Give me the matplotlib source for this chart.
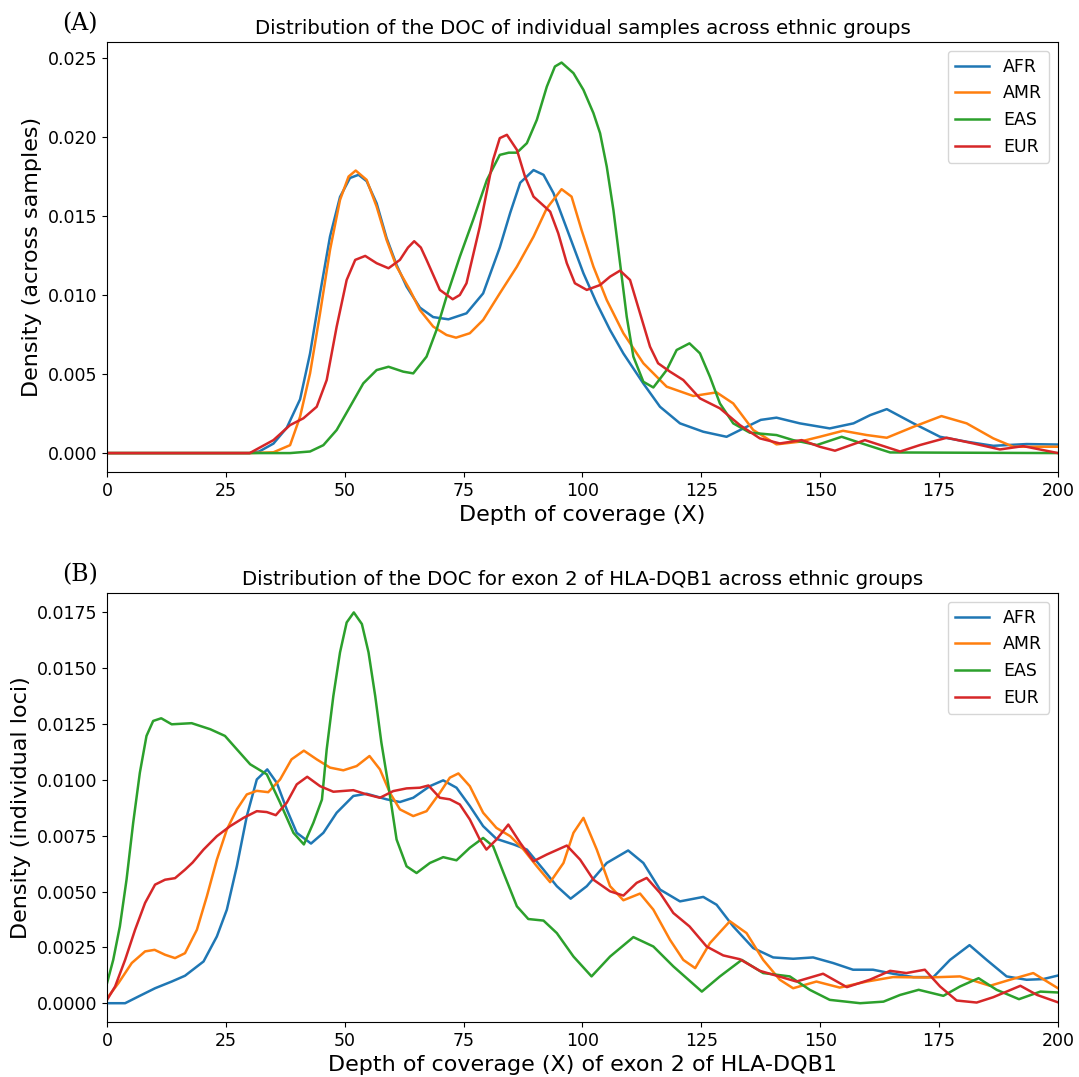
import matplotlib
matplotlib.use('Agg')
import matplotlib.pyplot as plt

groups = ['AFR', 'AMR', 'EAS', 'EUR']
colors = ['#1f77b4', '#ff7f0e', '#2ca02c', '#d62728']

# (A) DOC of individual samples
a_afr_x = [0, 30, 32, 35, 37.8, 40.6, 42.7, 44.8, 46.9, 49.0, 51.1, 52.9, 54.6, 56.7, 58.8, 60.9, 63.0, 65.8, 68.6, 71.8, 75.6, 79.1, 82.6, 84.8, 86.9, 89.7, 91.8, 93.9, 96.0, 98.1, 100.2, 103.0, 105.8, 108.6, 112.8, 116.3, 120.5, 125.4, 130.3, 134.5, 137.5, 140.8, 145.7, 152.0, 157.0, 160.5, 164.0, 169.6, 175.2, 180.8, 186.4, 193.4, 200]
a_afr_y = [0, 0, 0.0001, 0.0006, 0.0016, 0.0034, 0.0063, 0.0101, 0.0137, 0.0162, 0.0174, 0.0176, 0.0172, 0.0158, 0.0136, 0.0119, 0.01053, 0.0092, 0.0086, 0.00846, 0.00884, 0.0101, 0.0130, 0.0152, 0.0171, 0.0179, 0.0176, 0.01644, 0.01475, 0.01306, 0.01137, 0.00947, 0.00778, 0.0063, 0.0044, 0.00293, 0.00188, 0.00135, 0.00103, 0.00166, 0.0021, 0.00224, 0.00188, 0.00156, 0.00188, 0.0024, 0.00278, 0.00188, 0.00103, 0.00072, 0.00046, 0.00057, 0.00054]

a_amr_x = [0, 30, 35, 38.5, 40.6, 42.7, 44.8, 46.9, 49.0, 50.8, 52.3, 54.6, 56.7, 58.8, 60.9, 63.7, 65.8, 68.6, 71.4, 73.4, 76.3, 79.1, 82.6, 86.2, 89.7, 92.5, 95.6, 97.7, 99.8, 102.3, 105.1, 108.6, 112.8, 117.7, 123.3, 128.2, 131.7, 135.9, 140.8, 145.7, 149.9, 154.8, 159.8, 164.0, 169.6, 175.5, 180.8, 186.4, 190.6, 200]
a_amr_y = [0, 0, 0.00005, 0.0005, 0.0023, 0.00504, 0.00884, 0.01285, 0.01601, 0.01749, 0.01787, 0.01728, 0.01559, 0.01348, 0.01179, 0.01032, 0.00905, 0.0080, 0.00747, 0.0073, 0.00758, 0.00842, 0.0101, 0.01179, 0.01369, 0.01549, 0.01669, 0.01622, 0.01411, 0.01179, 0.00968, 0.00758, 0.00568, 0.0042, 0.00361, 0.00384, 0.00314, 0.00146, 0.00055, 0.00072, 0.00103, 0.00141, 0.00114, 0.00097, 0.00166, 0.00234, 0.00188, 0.00093, 0.0004, 0.0004]

a_eas_x = [0, 38.5, 42.7, 45.5, 48.3, 51.1, 53.9, 56.7, 59.2, 62.3, 64.4, 67.2, 69.3, 71.4, 74.2, 77.0, 79.9, 82.6, 84.5, 86.2, 88.3, 90.4, 92.5, 94.2, 95.6, 98.1, 100.2, 102.3, 103.7, 105.1, 106.5, 107.9, 109.3, 110.7, 112.8, 114.9, 117.7, 119.8, 122.5, 124.7, 126.8, 128.9, 131.7, 135.2, 140.8, 144.3, 149.3, 154.5, 159.8, 164.7, 200]
a_eas_y = [0, 0, 0.0001, 0.0005, 0.00146, 0.00293, 0.00441, 0.00525, 0.00546, 0.00515, 0.00504, 0.0061, 0.00779, 0.00989, 0.01242, 0.01475, 0.01728, 0.01886, 0.0190, 0.0190, 0.0196, 0.02108, 0.02318, 0.02445, 0.0247, 0.02403, 0.02297, 0.0215, 0.02023, 0.01812, 0.01538, 0.01201, 0.00863, 0.0061, 0.00451, 0.00415, 0.00525, 0.00652, 0.00694, 0.00631, 0.00483, 0.00314, 0.00188, 0.00129, 0.00114, 0.00082, 0.00051, 0.00103, 0.00051, 0.00004, 0]

a_eur_x = [0, 30, 35.0, 38.5, 41.3, 44.1, 46.2, 48.3, 50.4, 52.2, 54.3, 56.7, 59.2, 61.6, 63.3, 64.6, 66.0, 67.2, 70.0, 72.7, 74.2, 75.6, 78.4, 81.2, 82.6, 84.1, 86.2, 87.9, 89.7, 91.4, 93.2, 94.9, 96.7, 98.4, 100.9, 103.7, 105.8, 107.9, 110.0, 112.1, 114.2, 115.9, 118.4, 121.2, 124.7, 128.9, 133.1, 137.3, 141.5, 146.1, 149.9, 153.1, 159.4, 166.8, 171.0, 176.6, 182.2, 187.8, 192.7, 200]
a_eur_y = [0, 0, 0.00082, 0.00177, 0.0022, 0.00293, 0.00462, 0.008, 0.01095, 0.01222, 0.01247, 0.01201, 0.01169, 0.01222, 0.0130, 0.0134, 0.0130, 0.01222, 0.01032, 0.00973, 0.0100, 0.01074, 0.01432, 0.01855, 0.01992, 0.02013, 0.01918, 0.01749, 0.01622, 0.01576, 0.01527, 0.0139, 0.01201, 0.01074, 0.01032, 0.01063, 0.01116, 0.01154, 0.01095, 0.00884, 0.00673, 0.00568, 0.00515, 0.00462, 0.00346, 0.00283, 0.00177, 0.00093, 0.00061, 0.00082, 0.0004, 0.00015, 0.00082, 0.0001, 0.00051, 0.00097, 0.00061, 0.00023, 0.00044, 0]

# (B) DOC for exon 2 of HLA-DQB1
b_afr_x = [0, 3.8, 6.6, 10.1, 13.6, 16.4, 20.3, 23.1, 25.2, 27.3, 29.4, 31.5, 33.7, 35.7, 37.8, 39.9, 42.9, 45.5, 48.3, 51.8, 54.6, 58.8, 61.6, 64.4, 67.9, 70.7, 73.5, 76.3, 79.1, 81.9, 85.5, 88.3, 91.8, 94.6, 97.5, 100.9, 105.1, 109.6, 112.8, 116.3, 120.5, 125.4, 128.2, 131.7, 135.9, 140.1, 144.3, 148.5, 152.7, 156.9, 161.1, 165.3, 169.6, 173.8, 177.3, 181.4, 185.0, 189.2, 193.4, 196.9, 200]
b_afr_y = [0, 0, 0.0003, 0.00067, 0.00097, 0.00123, 0.00187, 0.00299, 0.00419, 0.00613, 0.00838, 0.01002, 0.01047, 0.00987, 0.00868, 0.00763, 0.00715, 0.00763, 0.00853, 0.00928, 0.00938, 0.00913, 0.00901, 0.0092, 0.00972, 0.00998, 0.00965, 0.00883, 0.00793, 0.00736, 0.00711, 0.00688, 0.00598, 0.00524, 0.00468, 0.00524, 0.00628, 0.00684, 0.00628, 0.00509, 0.00456, 0.00476, 0.00441, 0.00344, 0.00247, 0.00205, 0.00199, 0.00205, 0.0018, 0.0015, 0.0015, 0.00132, 0.00117, 0.00117, 0.00194, 0.0026, 0.00194, 0.0012, 0.00105, 0.00108, 0.00124]

b_amr_x = [0, 2.4, 5.2, 8.0, 10.0, 12.2, 14.3, 16.4, 18.9, 21.0, 23.1, 25.2, 27.3, 29.4, 31.5, 33.9, 36.4, 38.8, 41.4, 44.1, 46.9, 49.7, 52.5, 55.2, 57.4, 59.5, 61.6, 64.4, 67.2, 70.0, 72.1, 73.9, 76.3, 79.1, 81.9, 84.8, 87.6, 90.4, 93.2, 96.0, 98.1, 100.2, 103.0, 105.8, 108.6, 112.1, 114.9, 118.4, 121.2, 123.7, 126.8, 131.0, 134.5, 138.0, 141.5, 144.3, 149.2, 154.1, 159.8, 165.3, 172.4, 179.4, 185.7, 189.9, 194.8, 200]
b_amr_y = [0.00022, 0.0009, 0.0018, 0.00232, 0.00239, 0.00217, 0.00202, 0.00224, 0.00329, 0.00479, 0.00643, 0.00778, 0.00868, 0.00935, 0.00951, 0.00945, 0.01002, 0.01092, 0.01131, 0.01092, 0.01055, 0.01043, 0.01062, 0.01107, 0.01047, 0.00942, 0.00868, 0.00838, 0.0086, 0.00942, 0.0101, 0.01029, 0.00972, 0.00853, 0.00785, 0.00748, 0.00688, 0.00613, 0.00542, 0.00628, 0.00763, 0.0083, 0.00688, 0.00524, 0.00461, 0.00491, 0.00419, 0.00284, 0.00194, 0.00157, 0.00269, 0.00367, 0.00314, 0.00194, 0.00105, 0.00067, 0.00097, 0.0007, 0.00097, 0.00117, 0.00115, 0.0012, 0.00078, 0.00105, 0.00135, 0.00067]

b_eas_x = [0, 1.3, 2.7, 4.1, 5.5, 6.9, 8.3, 9.7, 11.4, 13.6, 16.1, 17.8, 21.7, 24.8, 27.3, 30.1, 33.6, 36.4, 39.2, 41.4, 43.4, 45.2, 46.2, 47.6, 49.0, 50.4, 51.9, 53.6, 55.0, 56.4, 57.7, 59.2, 60.9, 63.0, 65.1, 67.9, 70.7, 73.5, 76.3, 79.1, 81.2, 83.4, 86.2, 88.6, 91.8, 94.6, 98.1, 101.9, 105.8, 110.7, 114.9, 119.1, 125.1, 128.9, 133.5, 138.0, 143.6, 147.8, 152.0, 158.4, 163.3, 166.8, 170.7, 175.9, 179.4, 183.3, 187.1, 191.8, 196.3, 200]
b_eas_y = [0.0009, 0.00194, 0.00344, 0.00553, 0.00808, 0.01032, 0.01197, 0.01264, 0.01276, 0.01249, 0.01252, 0.01254, 0.01227, 0.01197, 0.01137, 0.0107, 0.01025, 0.00898, 0.00763, 0.00711, 0.00808, 0.00912, 0.01137, 0.01376, 0.01571, 0.01705, 0.0175, 0.01698, 0.01571, 0.01376, 0.01167, 0.00972, 0.00733, 0.00613, 0.00583, 0.00628, 0.00654, 0.0064, 0.00696, 0.0074, 0.00703, 0.00583, 0.00434, 0.00377, 0.0037, 0.00314, 0.00209, 0.0012, 0.00209, 0.00296, 0.00254, 0.00165, 0.00052, 0.0012, 0.00194, 0.00135, 0.0012, 0.0006, 0.00015, 0.0, 0.00007, 0.00037, 0.0006, 0.00033, 0.00075, 0.00112, 0.0006, 0.00018, 0.00052, 0.00048]

b_eur_x = [0, 1.7, 3.8, 5.9, 8.0, 10.1, 12.2, 14.3, 16.4, 18.0, 20.3, 23.1, 25.9, 28.7, 31.5, 33.6, 35.5, 37.8, 39.9, 42.1, 44.8, 47.6, 51.8, 54.6, 57.4, 60.2, 63.0, 65.8, 67.6, 70.0, 72.1, 74.2, 76.3, 78.4, 79.8, 81.9, 84.4, 86.9, 89.7, 92.5, 96.7, 99.5, 102.3, 105.8, 108.6, 111.4, 113.5, 116.3, 119.1, 122.5, 126.1, 129.6, 133.1, 137.3, 145.0, 150.6, 155.6, 160.4, 164.7, 168.1, 172.0, 175.2, 178.7, 182.9, 186.4, 192.1, 195.6, 200]
b_eur_y = [0.00015, 0.00075, 0.00194, 0.00329, 0.00449, 0.00531, 0.00553, 0.0056, 0.00598, 0.0063, 0.00688, 0.00748, 0.00793, 0.0083, 0.0086, 0.00856, 0.00842, 0.00898, 0.0098, 0.01014, 0.00972, 0.00947, 0.00954, 0.00935, 0.0092, 0.0095, 0.00962, 0.00965, 0.00975, 0.0092, 0.00913, 0.0089, 0.00823, 0.00733, 0.00688, 0.00733, 0.0080, 0.00718, 0.00636, 0.00666, 0.00706, 0.00643, 0.00553, 0.00501, 0.00482, 0.00539, 0.00561, 0.00494, 0.00404, 0.00344, 0.00254, 0.00214, 0.00197, 0.00145, 0.00097, 0.00132, 0.00072, 0.00105, 0.00145, 0.00135, 0.0015, 0.00075, 0.00012, 0.00003, 0.00027, 0.00078, 0.00037, 0.00004]

top_series = [(a_afr_x, a_afr_y), (a_amr_x, a_amr_y), (a_eas_x, a_eas_y), (a_eur_x, a_eur_y)]
bot_series = [(b_afr_x, b_afr_y), (b_amr_x, b_amr_y), (b_eas_x, b_eas_y), (b_eur_x, b_eur_y)]

fig = plt.figure(figsize=(10.79, 10.77), dpi=100)
ax1 = fig.add_axes([0.0992, 0.5617, 0.8813, 0.3993])
ax2 = fig.add_axes([0.0992, 0.0511, 0.8813, 0.3983])

for (xs, ys), g, c in zip(top_series, groups, colors):
    ax1.plot(xs, ys, color=c, lw=1.8, solid_joinstyle='round', label=g)
for (xs, ys), g, c in zip(bot_series, groups, colors):
    ax2.plot(xs, ys, color=c, lw=1.8, solid_joinstyle='round', label=g)

ax1.set_xlim(0, 200)
ax1.set_ylim(-0.0012, 0.0260)
ax2.set_xlim(0, 200)
ax2.set_ylim(-0.00084, 0.01837)

ax1.set_title('Distribution of the DOC of individual samples across ethnic groups', fontsize=14.2)
ax2.set_title('Distribution of the DOC for exon 2 of HLA-DQB1 across ethnic groups', fontsize=14.2)
ax1.set_xlabel('Depth of coverage (X)', fontsize=16)
ax1.set_ylabel('Density (across samples)', fontsize=16)
ax2.set_xlabel('Depth of coverage (X) of exon 2 of HLA-DQB1', fontsize=16)
ax2.set_ylabel('Density (individual loci)', fontsize=16)

for ax in (ax1, ax2):
    ax.tick_params(labelsize=12.5)
    ax.legend(loc='upper right', fontsize=12.5)

fig.text(0.058, 0.972, '(A)', family='DejaVu Serif', fontsize=17)
fig.text(0.058, 0.460, '(B)', family='DejaVu Serif', fontsize=17)

fig.savefig('out.png', dpi=100)
